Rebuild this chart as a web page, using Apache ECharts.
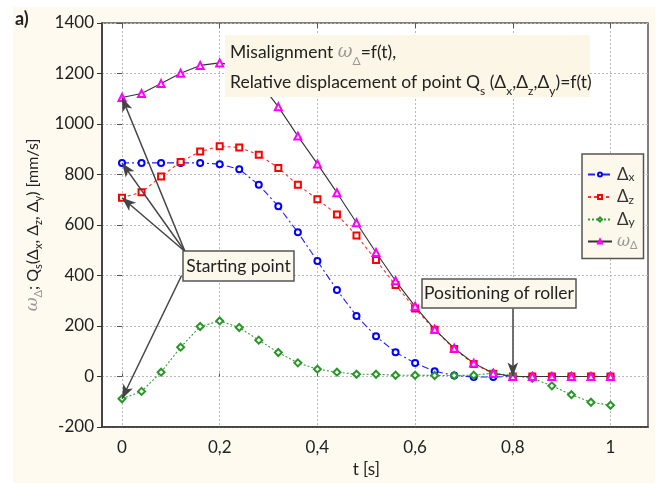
<!DOCTYPE html>
<html>
<head>
<meta charset="utf-8">
<script src="https://cdn.jsdelivr.net/npm/echarts@6/dist/echarts.min.js"></script>
<style>
  html, body { margin: 0; padding: 0; background: #fff; }
  #main { width: 658px; height: 484px; }
</style>
</head>
<body>
<div id="main"></div>
<script>
var chartDom = document.getElementById('main');
var myChart = echarts.init(chartDom);
var option;

// czas [s]
var tValues = [0, 0.04, 0.08, 0.12, 0.16, 0.2, 0.24, 0.28, 0.32, 0.36, 0.4, 0.44, 0.48,
               0.52, 0.56, 0.6, 0.64, 0.68, 0.72, 0.76, 0.8, 0.84, 0.88, 0.92, 0.96, 1];
// serie [mm/s]
var deltaX = [846, 846, 846, 846, 846, 841, 821, 759, 674, 571, 457, 343, 240,
              159, 96, 53, 21, 4, -2, -2, 0, 0, 0, 0, 0, 0];
var deltaZ = [708, 730, 792, 850, 891, 912, 907, 878, 826, 759, 702, 642, 558,
              461, 362, 269, 185, 109, 50, 11, 0, 0, 0, 0, 0, 0];
var deltaY = [-88, -59, 17, 116, 198, 220, 194, 144, 95, 54, 29, 17, 9,
              9, 5, 5, 4, 4, 5, 13, 4, -7, -37, -72, -102, -114];
var omega = [1105, 1121, 1160, 1201, 1232, 1242, 1228, 1170, 1068, 952, 842, 728, 609,
             491, 379, 278, 187, 112, 53, 13, 0, 0, 0, 0, 0, 0];
var xTickLabels = ['0', '0,2', '0,4', '0,6', '0,8', '1'];

var FONT = 'Lato, "Open Sans", sans-serif';

function pairs(ys) {
  return tValues.map(function (t, i) { return [t, ys[i]]; });
}

var legendNames = {
  dx: '{d|Δ}{s|x}',
  dz: '{d|Δ}{s|z}',
  dy: '{d|Δ}{s|y}',
  w: '{g|ω}{gs|Δ}'
};

var dotted = { show: true, lineStyle: { color: '#b8b8b8', type: [2, 2], width: 1 } };

option = {
  backgroundColor: '#fff',
  animation: false,
  textStyle: { fontFamily: FONT },
  grid: [
    { left: 102, top: 23, right: 10, bottom: 57, show: true, backgroundColor: '#fff',
      borderColor: '#555', borderWidth: 1.5 },
    { left: 122, top: 23, right: 47.5, bottom: 57 }
  ],
  xAxis: [
    { gridIndex: 0, type: 'value', min: -0.041, max: 1.077,
      axisLine: { show: true, onZero: false, lineStyle: { color: '#333', width: 1.5 } },
      axisTick: { show: false }, axisLabel: { show: false }, splitLine: { show: false } },
    { gridIndex: 1, type: 'value', min: 0, max: 1, interval: 0.2, position: 'bottom',
      axisLine: { show: false },
      axisTick: { show: true, inside: true, length: 3, lineStyle: { color: '#555' } },
      axisLabel: { margin: 12, fontSize: 17, color: '#222', fontFamily: FONT,
        formatter: function (v) { return xTickLabels[Math.round(v / 0.2)]; } },
      splitLine: dotted,
      name: 't [s]', nameLocation: 'middle', nameGap: 33,
      nameTextStyle: { fontSize: 17, color: '#222', fontFamily: FONT } },
    { gridIndex: 1, type: 'value', min: 0, max: 1, interval: 0.2, position: 'top',
      axisLine: { show: false },
      axisTick: { show: true, inside: true, length: 5, lineStyle: { color: '#555' } },
      axisLabel: { show: false }, splitLine: { show: false } }
  ],
  yAxis: [
    { gridIndex: 0, type: 'value', min: -200, max: 1400, interval: 200,
      axisLine: { show: true, onZero: false, lineStyle: { color: '#333', width: 1.5 } },
      axisTick: { show: true, inside: false, length: 5, lineStyle: { color: '#333' } },
      axisLabel: { margin: 8, fontSize: 17, color: '#222', fontFamily: FONT,
        formatter: function (v) { return String(v); } },
      splitLine: dotted,
      name: '{g|ω}{gs|Δ}{n|; Q}{s|s}{n|(Δ}{s|x}{n|, Δ}{s|z}{n|, Δ}{s|y}{n|) [mm/s]}',
      nameLocation: 'middle', nameGap: 52, nameRotate: 90,
      nameTextStyle: {
        rich: {
          n: { fontSize: 16, color: '#222', fontFamily: FONT, lineHeight: 22, verticalAlign: 'middle' },
          s: { fontSize: 11, color: '#222', fontFamily: FONT, lineHeight: 11, verticalAlign: 'bottom' },
          g: { fontSize: 17, color: '#999', fontFamily: 'DejaVu Serif', fontStyle: 'italic', lineHeight: 22, verticalAlign: 'middle' },
          gs: { fontSize: 11, color: '#999', fontFamily: FONT, lineHeight: 11, verticalAlign: 'bottom' }
        }
      } },
    { gridIndex: 0, type: 'value', min: -200, max: 1400, interval: 200, position: 'right',
      axisLine: { show: false },
      axisTick: { show: true, inside: true, length: 5, lineStyle: { color: '#555' } },
      axisLabel: { show: false }, splitLine: { show: false } },
    { gridIndex: 1, type: 'value', min: -200, max: 1400, show: false }
  ],
  legend: {
    orient: 'vertical', left: 582, top: 154,
    backgroundColor: '#fdf8ec', borderColor: '#555', borderWidth: 1.5,
    padding: [12, 6, 8, 5], itemWidth: 24, itemHeight: 5, itemGap: 5,
    data: ['dx', 'dz', 'dy', 'w'],
    formatter: function (name) { return legendNames[name]; },
    textStyle: {
      rich: {
        d: { fontSize: 17, color: '#333', fontFamily: FONT, lineHeight: 18, verticalAlign: 'middle' },
        s: { fontSize: 12, color: '#333', fontFamily: FONT, lineHeight: 12, verticalAlign: 'bottom' },
        g: { fontSize: 16, color: '#999', fontFamily: 'DejaVu Serif', fontStyle: 'italic', lineHeight: 18, verticalAlign: 'middle' },
        gs: { fontSize: 11, color: '#999', fontFamily: FONT, lineHeight: 11, verticalAlign: 'bottom' }
      }
    }
  },
  series: [
    { name: 'dx', type: 'line', xAxisIndex: 1, yAxisIndex: 2, clip: false,
      data: pairs(deltaX), symbol: 'emptyCircle', symbolSize: 6,
      itemStyle: { color: '#0000ff', borderWidth: 1.2 },
      lineStyle: { color: '#2020ff', width: 1.1, type: [7, 3, 2, 3] } },
    { name: 'dz', type: 'line', xAxisIndex: 1, yAxisIndex: 2, clip: false,
      data: pairs(deltaZ), symbol: 'emptyRect', symbolSize: 6,
      itemStyle: { color: '#ff0000', borderWidth: 1.2 },
      lineStyle: { color: '#ff3030', width: 1.1, type: [3, 3] } },
    { name: 'dy', type: 'line', xAxisIndex: 1, yAxisIndex: 2, clip: false,
      data: pairs(deltaY), symbol: 'emptyDiamond', symbolSize: 7,
      itemStyle: { color: '#2a962a', borderWidth: 1 },
      lineStyle: { color: '#3a9d3a', width: 1.1, type: [2, 2] } },
    { name: 'w', type: 'line', xAxisIndex: 1, yAxisIndex: 2, clip: false,
      data: pairs(omega), symbol: 'emptyTriangle', symbolSize: 7,
      itemStyle: { color: '#ff00ff', borderWidth: 1.2 },
      lineStyle: { color: '#333', width: 1.1 },
      markLine: {
        silent: true, animation: false,
        symbol: ['none', 'arrow'], symbolSize: [8, 14],
        label: { show: false },
        lineStyle: { color: '#444', width: 1.5, type: 'solid' },
        data: [
          [{ coord: [0.129, 495] }, { coord: [tValues[0], omega[0]] }],
          [{ coord: [0.129, 495] }, { coord: [tValues[0], deltaX[0]] }],
          [{ coord: [0.129, 495] }, { coord: [tValues[0], deltaZ[0]] }],
          [{ coord: [0.122, 400] }, { coord: [tValues[0], deltaY[0]] }],
          [{ coord: [0.8, 269] }, { coord: [tValues[20], omega[20]] }]
        ]
      } }
  ],
  graphic: [
    { type: 'rect', z: -100, silent: true,
      shape: { x: 13, y: 7, width: 642, height: 476 }, style: { fill: '#fffaf0' } },
    { type: 'text', z: 100, left: 15, top: 10,
      style: { text: 'a)', fontSize: 18, fontWeight: 'bold', fontFamily: FONT, fill: '#222' } },
    { type: 'rect', z: 100, silent: true,
      shape: { x: 225, y: 35, width: 365, height: 62 }, style: { fill: '#fcf6e6' } },
    { type: 'text', z: 101, x: 230, y: 37,
      style: {
        text: 'Misalignment {g|ω}{gs|Δ}=f(t),\nRelative displacement of point Q{s|s} (Δ{s|x},Δ{s|z},Δ{s|y})=f(t)',
        fontSize: 17.5, fontFamily: FONT, fill: '#222', lineHeight: 30,
        rich: {
          s: { fontSize: 12, fill: '#222', fontFamily: FONT, lineHeight: 12, verticalAlign: 'bottom' },
          g: { fontSize: 18, fill: '#999', fontFamily: 'DejaVu Serif', fontStyle: 'italic', lineHeight: 30, verticalAlign: 'middle' },
          gs: { fontSize: 12, fill: '#999', fontFamily: FONT, lineHeight: 12, verticalAlign: 'bottom' }
        }
      } },
    { type: 'rect', z: 100, silent: true,
      shape: { x: 183, y: 251, width: 111, height: 30 },
      style: { fill: '#fdf8ec', stroke: '#555', lineWidth: 1.5 } },
    { type: 'text', z: 101, x: 238.5, y: 266,
      style: { text: 'Starting point', fontSize: 17.5, fontFamily: FONT, fill: '#222',
        align: 'center', verticalAlign: 'middle' } },
    { type: 'rect', z: 100, silent: true,
      shape: { x: 422, y: 279, width: 154, height: 29 },
      style: { fill: '#fdf8ec', stroke: '#555', lineWidth: 1.5 } },
    { type: 'text', z: 101, x: 499, y: 293.5,
      style: { text: 'Positioning of roller', fontSize: 17.5, fontFamily: FONT, fill: '#222',
        align: 'center', verticalAlign: 'middle' } }
  ]
};

myChart.setOption(option);
</script>
</body>
</html>
